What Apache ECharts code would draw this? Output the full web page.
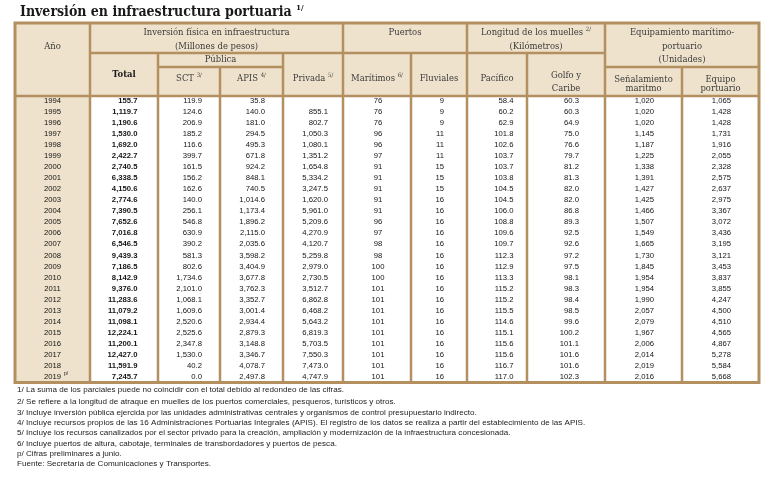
<!DOCTYPE html>
<html>
<head>
<meta charset="utf-8">
<script src="https://cdn.jsdelivr.net/npm/echarts@6/dist/echarts.min.js"></script>
<style>
    html, body { margin: 0; padding: 0; background: #fff; }
    #chart { width: 775px; height: 478px; }
</style>
</head>
<body>
<div id="chart"></div>
<script>
// 年份
const years = ['1994', '1995', '1996', '1997', '1998', '1999', '2000', '2001', '2002', '2003', '2004', '2005', '2006',
    '2007', '2008', '2009', '2010', '2011', '2012', '2013', '2014', '2015', '2016', '2017', '2018', '2019'];
// 年份角标
const yearMarks = { '2019': 'p/' };
// 投资（百万比索）
const total = [155.7, 1119.7, 1190.6, 1530.0, 1692.0, 2422.7, 2740.5, 6338.5, 4150.6, 2774.6, 7390.5, 7652.6, 7016.8,
    6546.5, 9439.3, 7186.5, 8142.9, 9376.0, 11283.6, 11079.2, 11098.1, 12224.1, 11200.1, 12427.0, 11591.9, 7245.7];
const sct = [119.9, 124.6, 206.9, 185.2, 116.6, 399.7, 161.5, 156.2, 162.6, 140.0, 256.1, 546.8, 630.9,
    390.2, 581.3, 802.6, 1734.6, 2101.0, 1068.1, 1609.6, 2520.6, 2525.6, 2347.8, 1530.0, 40.2, 0.0];
const apis = [35.8, 140.0, 181.0, 294.5, 495.3, 671.8, 924.2, 848.1, 740.5, 1014.6, 1173.4, 1896.2, 2115.0,
    2035.6, 3598.2, 3404.9, 3677.8, 3762.3, 3352.7, 3001.4, 2934.4, 2879.3, 3148.8, 3346.7, 4078.7, 2497.8];
const privada = [null, 855.1, 802.7, 1050.3, 1080.1, 1351.2, 1654.8, 5334.2, 3247.5, 1620.0, 5961.0, 5209.6, 4270.9,
    4120.7, 5259.8, 2979.0, 2730.5, 3512.7, 6862.8, 6468.2, 5643.2, 6819.3, 5703.5, 7550.3, 7473.0, 4747.9];
// 港口
const maritimos = [76, 76, 76, 96, 96, 97, 91, 91, 91, 91, 91, 96, 97, 98, 98, 100, 100, 101, 101, 101, 101, 101, 101, 101, 101, 101];
const fluviales = [9, 9, 9, 11, 11, 11, 15, 15, 15, 16, 16, 16, 16, 16, 16, 16, 16, 16, 16, 16, 16, 16, 16, 16, 16, 16];
// 码头长度（公里）
const pacifico = [58.4, 60.2, 62.9, 101.8, 102.6, 103.7, 103.7, 103.8, 104.5, 104.5, 106.0, 108.8, 109.6,
    109.7, 112.3, 112.9, 113.3, 115.2, 115.2, 115.5, 114.6, 115.1, 115.6, 115.6, 116.7, 117.0];
const golfo = [60.3, 60.3, 64.9, 75.0, 76.6, 79.7, 81.2, 81.3, 82.0, 82.0, 86.8, 89.3, 92.5,
    92.6, 97.2, 97.5, 98.1, 98.3, 98.4, 98.5, 99.6, 100.2, 101.1, 101.6, 101.6, 102.3];
// 设备（单位）
const senalamiento = [1020, 1020, 1020, 1145, 1187, 1225, 1338, 1391, 1427, 1425, 1466, 1507, 1549,
    1665, 1730, 1845, 1954, 1954, 1990, 2057, 2079, 1967, 2006, 2014, 2019, 2016];
const equipo = [1065, 1428, 1428, 1731, 1916, 2055, 2328, 2575, 2637, 2975, 3367, 3072, 3436,
    3195, 3121, 3453, 3837, 3855, 4247, 4500, 4510, 4565, 4867, 5278, 5584, 5668];
// 注释
const notes = [
    '1/ La suma de los parciales puede no coincidir con el total debido al redondeo de las cifras.',
    '2/ Se refiere a la longitud de atraque en muelles de los puertos comerciales, pesqueros, turísticos y otros.',
    '3/ Incluye inversión pública ejercida por las unidades administrativas centrales y organismos de control presupuestario indirecto.',
    '4/ Incluye recursos propios de las 16 Administraciones Portuarias Integrales (APIS). El registro de los datos se realiza a partir del establecimiento de las APIS.',
    '5/ Incluye los recursos canalizados por el sector privado para la creación, ampliación y modernización de la infraestructura concesionada.',
    '6/ Incluye puertos de altura, cabotaje, terminales de transbordadores y puertos de pesca.',
    'p/ Cifras preliminares a junio.',
    'Fuente: Secretaría de Comunicaciones y Transportes.'
];

// 样式
const BORDER = '#b48f60';
const HEAD_BG = '#eee2cc';
const HEAD_TXT = '#3b3b3b';
const BODY_TXT = '#141414';
const SERIF = '"DejaVu Serif Condensed", "DejaVu Serif", serif';
const SANS = '"Liberation Sans", Arial, sans-serif';
const HEAD_FONT = '9.4px ' + SERIF;
const SUP_FONT = '6px ' + SERIF;
const BODY_FONT = '7.7px ' + SANS;

// 表格布局
const T_LEFT = 15, T_RIGHT = 759, T_TOP = 23, H_ROW1 = 53, H_ROW2 = 67, H_BOTTOM = 96, T_BOTTOM = 382.5;

// 列定义：数据、小数位、对齐锚点、对齐方式
const columns = [
    { values: years, anchor: 52.5, align: 'center' },
    { values: total, dec: 1, anchor: 137.5, align: 'right', bold: true },
    { values: sct, dec: 1, anchor: 202, align: 'right' },
    { values: apis, dec: 1, anchor: 265, align: 'right' },
    { values: privada, dec: 1, anchor: 328, align: 'right' },
    { values: maritimos, dec: 0, anchor: 378, align: 'center' },
    { values: fluviales, dec: 0, anchor: 444, align: 'right' },
    { values: pacifico, dec: 1, anchor: 513.5, align: 'right' },
    { values: golfo, dec: 1, anchor: 579, align: 'right' },
    { values: senalamiento, dec: 0, anchor: 654, align: 'right' },
    { values: equipo, dec: 0, anchor: 731, align: 'right' }
];

let measureCtx = document.createElement('canvas').getContext('2d');
function textWidth(text, font) {
    measureCtx.font = font;
    return measureCtx.measureText(text).width;
}

/**
 * 千分位格式化
 */
function fmt(v, dec) {
    if (v === null || v === undefined) {
        return '';
    }
    let parts = v.toFixed(dec).split('.');
    parts[0] = parts[0].replace(/\B(?=(\d{3})+(?!\d))/g, ',');
    return parts.join('.');
}

function txt(text, x, y, font, fill, align) {
    return {
        type: 'text',
        silent: true,
        style: {
            text: text, x: x, y: y, font: font, fill: fill,
            align: align || 'center', textAlign: align || 'center',
            verticalAlign: 'middle', textVerticalAlign: 'middle'
        }
    };
}

// 居中文字加角标
function supTxt(main, sup, cx, y, font, supFont, fill) {
    let w1 = textWidth(main + ' ', font);
    let w2 = textWidth(sup, supFont);
    let x0 = cx - (w1 + w2) / 2;
    return [
        txt(main, x0, y, font, fill, 'left'),
        txt(sup, x0 + w1, y - 3.5, supFont, fill, 'left')
    ];
}

function line(x1, y1, x2, y2, w) {
    return {
        type: 'line',
        silent: true,
        z: 10,
        shape: { x1: x1, y1: y1, x2: x2, y2: y2 },
        style: { stroke: BORDER, lineWidth: w || 2.5 }
    };
}

let graphics = [];
// 背景
graphics.push({ type: 'rect', silent: true, z: 0, shape: { x: T_LEFT, y: T_TOP, width: T_RIGHT - T_LEFT, height: H_BOTTOM - T_TOP }, style: { fill: HEAD_BG } });
graphics.push({ type: 'rect', silent: true, z: 0, shape: { x: T_LEFT, y: H_BOTTOM, width: 90 - T_LEFT, height: T_BOTTOM - H_BOTTOM }, style: { fill: HEAD_BG } });

// 标题
let titleFont = 'bold 14px ' + SERIF;
graphics.push(txt('Inversión en infraestructura portuaria', 20, 12, titleFont, '#1a1a1a', 'left'));
graphics.push(txt('1/', 20 + textWidth('Inversión en infraestructura portuaria ', titleFont), 8, 'bold 8px ' + SERIF, '#1a1a1a', 'left'));

// 表头文字
graphics.push(txt('Año', 52.5, 47, HEAD_FONT, HEAD_TXT));
graphics.push(txt('Inversión física en infraestructura', 216.5, 32.5, HEAD_FONT, HEAD_TXT));
graphics.push(txt('(Millones de pesos)', 216.5, 47, HEAD_FONT, HEAD_TXT));
graphics.push(txt('Pública', 220.5, 60, HEAD_FONT, HEAD_TXT));
graphics.push(txt('Total', 124, 75, 'bold ' + HEAD_FONT, '#1a1a1a'));
graphics.push(...supTxt('SCT', '3/', 189, 79, HEAD_FONT, SUP_FONT, HEAD_TXT));
graphics.push(...supTxt('APIS', '4/', 251.5, 79, HEAD_FONT, SUP_FONT, HEAD_TXT));
graphics.push(...supTxt('Privada', '5/', 313, 79, HEAD_FONT, SUP_FONT, HEAD_TXT));
graphics.push(txt('Puertos', 405, 32.5, HEAD_FONT, HEAD_TXT));
graphics.push(...supTxt('Marítimos', '6/', 377, 79, HEAD_FONT, SUP_FONT, HEAD_TXT));
graphics.push(txt('Fluviales', 439, 79, HEAD_FONT, HEAD_TXT));
graphics.push(...supTxt('Longitud de los muelles', '2/', 536, 32.5, HEAD_FONT, SUP_FONT, HEAD_TXT));
graphics.push(txt('(Kilómetros)', 536, 47, HEAD_FONT, HEAD_TXT));
graphics.push(txt('Pacífico', 497, 79, HEAD_FONT, HEAD_TXT));
graphics.push(txt('Golfo y', 566, 76, HEAD_FONT, HEAD_TXT));
graphics.push(txt('Caribe', 566, 89, HEAD_FONT, HEAD_TXT));
graphics.push(txt('Equipamiento marítimo-', 682, 32.5, HEAD_FONT, HEAD_TXT));
graphics.push(txt('portuario', 682, 47, HEAD_FONT, HEAD_TXT));
graphics.push(txt('(Unidades)', 682, 60, HEAD_FONT, HEAD_TXT));
graphics.push(txt('Señalamiento', 643.5, 79.5, HEAD_FONT, HEAD_TXT));
graphics.push(txt('maritmo', 643.5, 89, HEAD_FONT, HEAD_TXT));
graphics.push(txt('Equipo', 720.5, 79.5, HEAD_FONT, HEAD_TXT));
graphics.push(txt('portuario', 720.5, 89, HEAD_FONT, HEAD_TXT));

// 边框
graphics.push({
    type: 'rect', silent: true, z: 10,
    shape: { x: T_LEFT, y: T_TOP, width: T_RIGHT - T_LEFT, height: T_BOTTOM - T_TOP },
    style: { fill: null, stroke: BORDER, lineWidth: 3 }
});
[90, 343, 467, 605].forEach(function (x) { graphics.push(line(x, T_TOP, x, T_BOTTOM)); });
[158, 283, 411, 527].forEach(function (x) { graphics.push(line(x, H_ROW1, x, T_BOTTOM)); });
[220, 682].forEach(function (x) { graphics.push(line(x, H_ROW2, x, T_BOTTOM)); });
graphics.push(line(90, H_ROW1, 605, H_ROW1));
graphics.push(line(158, H_ROW2, 283, H_ROW2));
graphics.push(line(605, H_ROW2, T_RIGHT, H_ROW2));
graphics.push(line(T_LEFT, H_BOTTOM, T_RIGHT, H_BOTTOM));

// 注释
let noteY = [390, 402, 412.3, 422.7, 433, 443.3, 453.7, 464];
for (let i = 0; i < notes.length; i++) {
    graphics.push(txt(notes[i], 17, noteY[i], '8.1px ' + SANS, '#222', 'left'));
}

// 表体数据：[锚点x, 行, 列]
let cellData = [];
for (let c = 0; c < columns.length; c++) {
    for (let r = 0; r < years.length; r++) {
        cellData.push([columns[c].anchor, r, c]);
    }
}

function renderCell(params, api) {
    let c = api.value(2);
    let r = api.value(1);
    let col = columns[c];
    let pt = api.coord([api.value(0), r]);
    let raw = col.values[r];
    let text = c === 0 ? raw : fmt(raw, col.dec);
    let font = (col.bold ? 'bold ' : '') + BODY_FONT;
    let el = {
        type: 'text',
        style: {
            text: text, x: pt[0], y: pt[1], font: font, fill: BODY_TXT,
            align: col.align, textAlign: col.align, verticalAlign: 'middle', textVerticalAlign: 'middle'
        }
    };
    if (c === 0 && yearMarks[raw]) {
        let w = textWidth(raw, font);
        return {
            type: 'group',
            children: [el, {
                type: 'text',
                style: {
                    text: yearMarks[raw], x: pt[0] + w / 2 + 3, y: pt[1] - 3, font: '5px ' + SANS, fill: BODY_TXT,
                    align: 'left', textAlign: 'left', verticalAlign: 'middle', textVerticalAlign: 'middle'
                }
            }]
        };
    }
    return el;
}

let option = {
    animation: false,
    grid: { left: T_LEFT, right: 775 - T_RIGHT, top: 95.5, bottom: 95.8 },
    xAxis: { type: 'value', min: T_LEFT, max: T_RIGHT, show: false },
    yAxis: { type: 'category', data: years, inverse: true, show: false },
    graphic: graphics,
    series: [{
        type: 'custom',
        renderItem: renderCell,
        data: cellData,
        z: 5,
        silent: true
    }]
};

let myChart = echarts.init(document.getElementById('chart'), null, { renderer: 'canvas' });
myChart.setOption(option);
</script>
</body>
</html>
